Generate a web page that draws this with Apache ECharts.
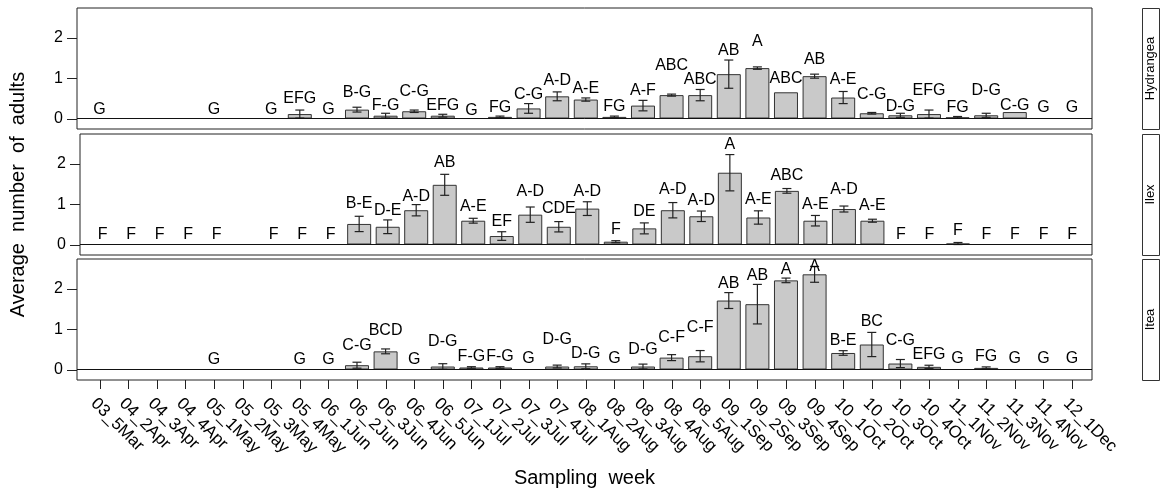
<!DOCTYPE html>
<html>
<head>
<meta charset="utf-8">
<script src="https://cdn.jsdelivr.net/npm/echarts@6/dist/echarts.min.js"></script>
<style>
html,body{margin:0;padding:0;background:#fff;}
#chart{width:1161px;height:494px;}
</style>
</head>
<body>
<div id="chart"></div>
<script>
// ---------------- data ----------------
const weeks = ['03_5Mar','04_2Apr','04_3Apr','04_4Apr','05_1May','05_2May','05_3May','05_4May',
  '06_1Jun','06_2Jun','06_3Jun','06_4Jun','06_5Jun','07_1Jul','07_2Jul','07_3Jul','07_4Jul',
  '08_1Aug','08_2Aug','08_3Aug','08_4Aug','08_5Aug','09_1Sep','09_2Sep','09_3Sep','09_4Sep',
  '10_1Oct','10_2Oct','10_3Oct','10_4Oct','11_1Nov','11_2Nov','11_3Nov','11_4Nov','12_1Dec'];

const plants = ['Hydrangea', 'Ilex', 'Itea'];
const yTicks = [0, 1, 2];

// Hydrangea
const hydMean = [0,null,null,null,0,null,0,0.11,0,0.22,0.07,0.18,0.07,0,0.04,0.25,0.55,0.47,0.04,0.32,
  0.58,0.58,1.10,1.25,0.65,1.05,0.52,0.13,0.08,0.11,0.03,0.08,0.16,0,0];
const hydSE = [0,0,0,0,0,0,0,0.10,0,0.06,0.06,0.03,0.035,0,0.02,0.12,0.11,0.04,0.02,0.13,
  0.025,0.14,0.35,0.03,0,0.05,0.15,0.02,0.05,0.10,0.02,0.05,0,0,0];
const hydLetters = ['G','','','','G','','G','EFG','G','B-G','F-G','C-G','EFG','G','FG','C-G','A-D','A-E','FG','A-F',
  'ABC','ABC','AB','A','ABC','AB','A-E','C-G','D-G','EFG','FG','D-G','C-G','G','G'];
const hydLetterY = [0.23,null,null,null,0.23,null,0.23,0.49,0.23,0.645,0.33,0.67,0.33,0.20,0.28,0.605,0.95,0.73,0.30,0.69,
  1.31,0.96,1.69,1.91,1.00,1.46,0.96,0.605,0.30,0.695,0.26,0.695,0.33,0.26,0.26];

// Ilex
const ilexMean = [0,0,0,0,0,null,0,0,0,0.51,0.44,0.85,1.48,0.59,0.21,0.74,0.44,0.89,0.07,0.40,
  0.85,0.70,1.78,0.67,1.33,0.59,0.88,0.59,0,0,0.025,0,0,0,0];
const ilexSE = [0,0,0,0,0,0,0,0,0,0.19,0.17,0.14,0.26,0.06,0.107,0.19,0.128,0.17,0.025,0.136,
  0.19,0.13,0.45,0.165,0.058,0.13,0.074,0.037,0,0,0.025,0,0,0,0];
const ilexLetters = ['F','F','F','F','F','','F','F','F','B-E','D-E','A-D','AB','A-E','EF','A-D','CDE','A-D','F','DE',
  'A-D','A-D','A','A-E','ABC','A-E','A-D','A-E','F','F','F','F','F','F','F'];
const ilexLetterY = [0.255,0.255,0.255,0.255,0.255,null,0.255,0.255,0.255,1.01,0.83,1.20,2.02,0.93,0.56,1.30,0.88,1.32,0.38,0.81,
  1.37,1.08,2.47,1.12,1.70,0.99,1.36,0.97,0.255,0.255,0.34,0.255,0.255,0.255,0.255];

// Itea
const iteaMean = [null,null,null,null,0,null,null,0,0,0.107,0.45,0,0.074,0.05,0.05,0,0.074,0.08,0,0.074,
  0.295,0.33,1.71,1.62,2.21,2.36,0.41,0.62,0.148,0.066,0,0.04,0,0,0];
const iteaSE = [0,0,0,0,0,0,0,0,0,0.074,0.06,0,0.07,0.02,0.02,0,0.035,0.06,0,0.06,
  0.074,0.14,0.197,0.49,0.057,0.197,0.057,0.30,0.10,0.04,0,0.025,0,0,0];
const iteaLetters = ['','','','','G','','','G','G','C-G','BCD','G','D-G','F-G','F-G','G','D-G','D-G','G','D-G',
  'C-F','C-F','AB','AB','A','A','B-E','BC','C-G','EFG','G','FG','G','G','G'];
const iteaLetterY = [null,null,null,null,0.25,null,null,0.25,0.25,0.60,0.97,0.25,0.68,0.33,0.33,0.26,0.74,0.385,0.26,0.49,
  0.78,1.05,2.13,2.32,2.48,2.56,0.72,1.20,0.72,0.37,0.26,0.33,0.26,0.26,0.26];

// ---------------- chart ----------------
const FONT = 'Liberation Sans, Arial, Helvetica, sans-serif';
const panelData = [
  {mean: hydMean, se: hydSE, letters: hydLetters, ly: hydLetterY},
  {mean: ilexMean, se: ilexSE, letters: ilexLetters, ly: ilexLetterY},
  {mean: iteaMean, se: iteaSE, letters: iteaLetters, ly: iteaLetterY}
];
const idx = weeks.map((w, i) => i);

const X_MIN = -0.79, X_MAX = 34.7, Y_MIN = -0.26, Y_MAX = 2.74;
const L = 77, W = 1015, H = 121;
const tops = [8, 134, 259];

const grids = [], xAxes = [], yAxes = [], series = [], graphics = [];

panelData.forEach((pd, p) => {
  grids.push({left: L, top: tops[p], width: W, height: H, show: true,
    borderColor: '#222', borderWidth: 1, backgroundColor: 'transparent', containLabel: false});
  const isBottom = p === 2;
  xAxes.push({
    type: 'value', gridIndex: p, min: X_MIN, max: X_MAX,
    show: isBottom, position: 'bottom',
    axisLine: {show: false, onZero: false},
    splitLine: {show: false},
    axisTick: {show: false},
    axisLabel: {show: true, customValues: idx, rotate: -45, margin: 15, verticalAlign: 'top',
      fontFamily: FONT, fontSize: 17, color: '#000',
      formatter: v => weeks[Math.round(v)] || ''},
    name: isBottom ? 'Sampling  week' : '',
    nameLocation: 'middle', nameGap: 88,
    nameTextStyle: {fontFamily: FONT, fontSize: 20, color: '#000'}
  });
  yAxes.push({
    type: 'value', gridIndex: p, min: Y_MIN, max: Y_MAX, position: 'left',
    axisLine: {show: false, onZero: false},
    splitLine: {show: false},
    axisTick: {show: false},
    axisLabel: {show: true, customValues: yTicks, margin: 14, fontFamily: FONT, fontSize: 16, color: '#000'},
    name: p === 1 ? 'Average  number  of  adults' : '',
    nameLocation: 'middle', nameGap: 52, nameRotate: 90,
    nameTextStyle: {fontFamily: FONT, fontSize: 20, color: '#000'}
  });

  const barData = [], errData = [], letData = [];
  pd.mean.forEach((m, i) => {
    if (m !== null) barData.push([i, m]);
    if (m !== null && pd.se[i] > 0) errData.push([i, m, pd.se[i]]);
    if (pd.ly[i] !== null && pd.letters[i]) letData.push([i, pd.ly[i]]);
  });

  series.push({
    type: 'bar', xAxisIndex: p, yAxisIndex: p, data: barData, barWidth: 24,
    itemStyle: {color: '#c9c9c9', borderColor: '#333', borderWidth: 1},
    silent: true, z: 2,
    markLine: {silent: true, symbol: 'none', label: {show: false},
      lineStyle: {color: '#111', width: 1, type: 'solid'},
      data: [{yAxis: 0}], animation: false}
  });
  series.push({
    type: 'custom', xAxisIndex: p, yAxisIndex: p, data: errData, z: 3, silent: true,
    encode: {x: 0, y: 1},
    renderItem: (params, api) => {
      const x = api.value(0), m = api.value(1), s = api.value(2);
      const t = api.coord([x, m + s]), b = api.coord([x, m - s]);
      const hw = 4.5;
      const st = {stroke: '#222', lineWidth: 1.2};
      return {type: 'group', children: [
        {type: 'line', shape: {x1: t[0], y1: t[1], x2: b[0], y2: b[1]}, style: st},
        {type: 'line', shape: {x1: t[0] - hw, y1: t[1], x2: t[0] + hw, y2: t[1]}, style: st},
        {type: 'line', shape: {x1: b[0] - hw, y1: b[1], x2: b[0] + hw, y2: b[1]}, style: st}
      ]};
    }
  });
  const letters = pd.letters;
  series.push({
    type: 'custom', xAxisIndex: p, yAxisIndex: p, data: letData, z: 4, silent: true,
    encode: {x: 0, y: 1},
    renderItem: (params, api) => {
      const i = api.value(0);
      const c = api.coord([i, api.value(1)]);
      return {type: 'text', x: c[0], y: c[1], style: {text: letters[i], fill: '#000',
        font: '16px ' + FONT, align: 'center', verticalAlign: 'middle'}};
    }
  });

  // strip boxes on the right
  graphics.push({type: 'rect', left: 1142, top: tops[p], shape: {width: 17, height: H},
    style: {fill: '#fff', stroke: '#333', lineWidth: 1}, silent: true});
  graphics.push({type: 'text', x: 1150.5, y: tops[p] + H / 2, rotation: Math.PI / 2,
    style: {text: plants[p], fill: '#000', font: '13px ' + FONT, align: 'center', verticalAlign: 'middle'},
    silent: true});
});

const chart = echarts.init(document.getElementById('chart'), null, {renderer: 'canvas'});
chart.setOption({
  animation: false,
  grid: grids, xAxis: xAxes, yAxis: yAxes, series: series, graphic: graphics
});

// R-style outward tick marks, positioned through the axes' own scales
const tickEls = [];
for (let p = 0; p < 3; p++) {
  yTicks.forEach(v => {
    const c = chart.convertToPixel({xAxisIndex: p, yAxisIndex: p}, [X_MIN, v]);
    const y = Math.round(c[1]) + 0.5;
    tickEls.push({type: 'line', silent: true, z: 10,
      shape: {x1: c[0] - 10, y1: y, x2: c[0], y2: y}, style: {stroke: '#222', lineWidth: 1}});
  });
}
idx.forEach(i => {
  const c = chart.convertToPixel({xAxisIndex: 2, yAxisIndex: 2}, [i, Y_MIN]);
  const x = Math.round(c[0]) + 0.5;
  tickEls.push({type: 'line', silent: true, z: 10,
    shape: {x1: x, y1: c[1], x2: x, y2: c[1] + 9}, style: {stroke: '#222', lineWidth: 1}});
});
chart.setOption({graphic: graphics.concat(tickEls)});
</script>
</body>
</html>
